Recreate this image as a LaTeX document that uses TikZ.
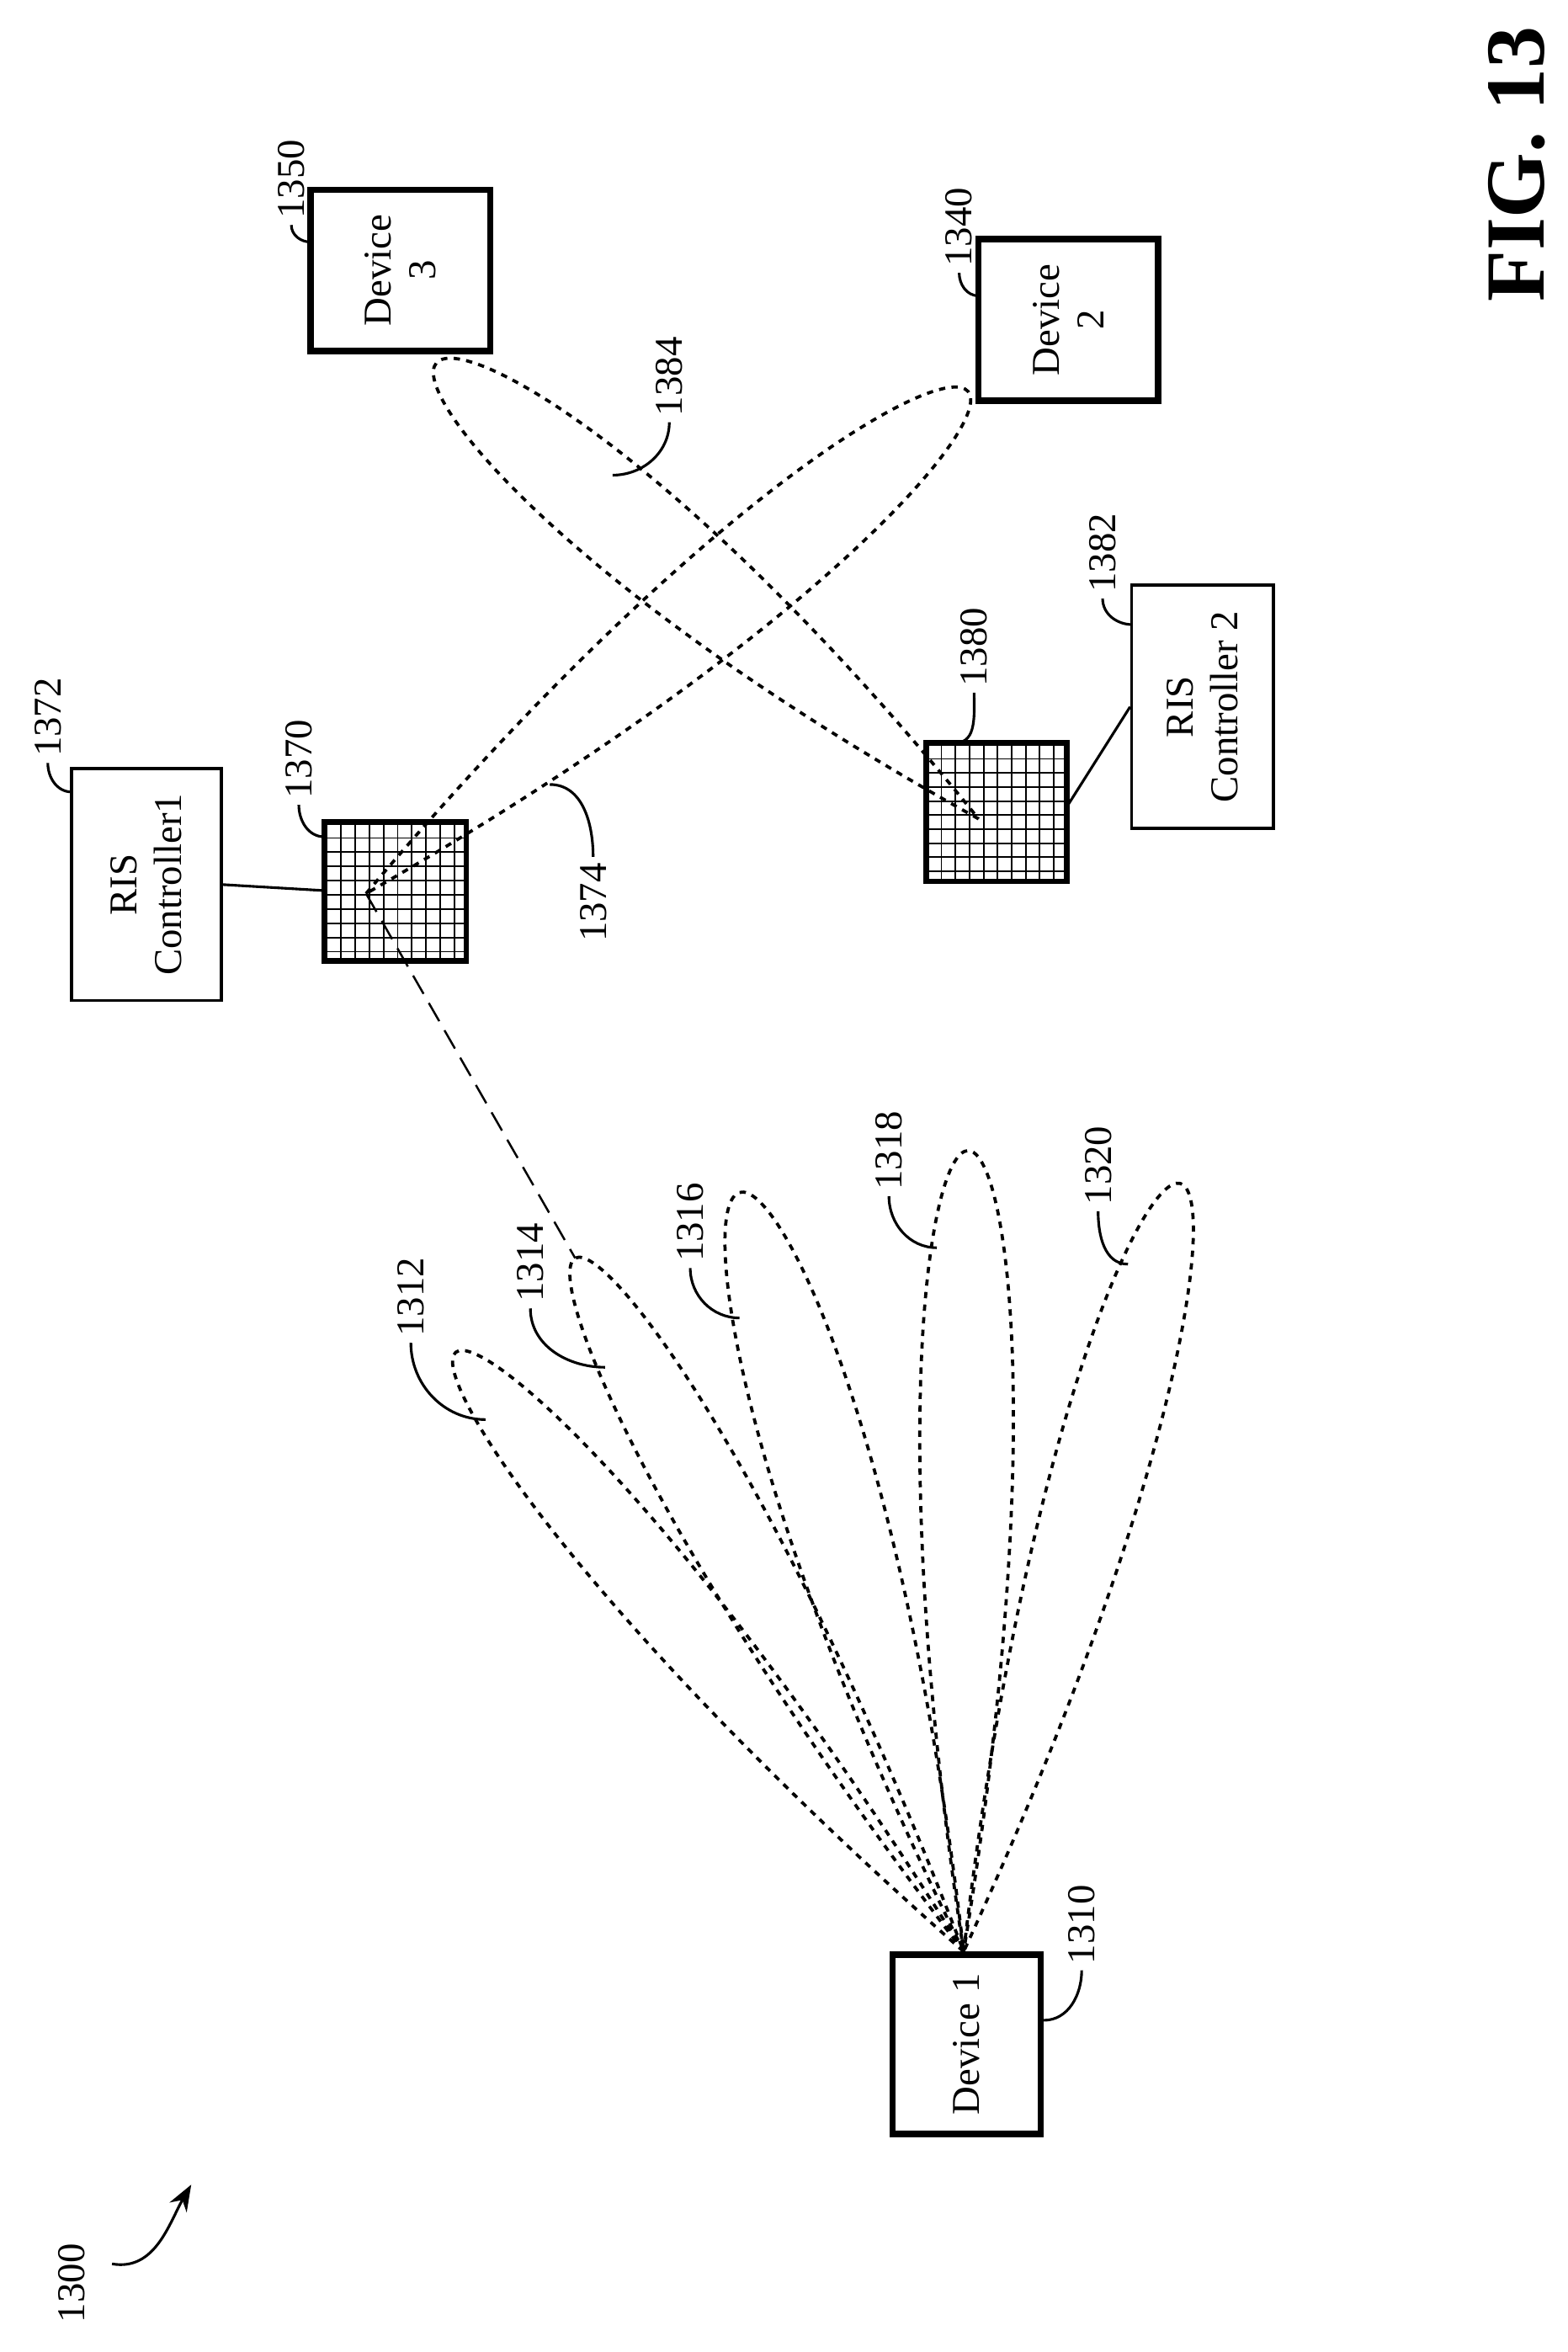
\documentclass[tikz,border=0pt]{standalone}
\usepackage{fontspec}
\setmainfont{Liberation Serif}
\usetikzlibrary{calc,arrows.meta}
\tikzset{
box/.style={draw, rotate=90, align=center, font=\fontsize{7.5}{8.5}\selectfont, inner sep=1pt},
dev/.style={box, line width=1.2pt},
ctrl/.style={box, line width=0.6pt},
num/.style={rotate=90, font=\fontsize{7.5}{8.5}\selectfont, inner sep=1pt},
beam/.style={line width=0.6pt, dash pattern=on 1.2pt off 1.2pt},
lead/.style={line width=0.5pt},
}
% lobe from origin #1 to tip #2, widths #3 (middle) and #4 (near tip)
\newcommand\lobe[4]{\draw[beam] (#1) .. controls ($(#1)!0.65!(#2)!#3!90:(#2)$) and ($(#2)!#4!-90:(#1)$) .. (#2)
 .. controls ($(#2)!#4!90:(#1)$) and ($(#1)!0.65!(#2)!#3!-90:(#2)$) .. (#1);}
\begin{document}
\begin{tikzpicture}[x=0.01cm, y=-0.01cm]
\useasboundingbox (0,0) rectangle (1049,1574);
% devices
\node[dev, minimum width=1.2cm, minimum height=0.99cm] (dev1) at (647,1368) {Device 1};
\node[dev, minimum width=1.08cm, minimum height=1.2cm] (dev3) at (268,181) {Device\\3};
\node[dev, minimum width=1.08cm, minimum height=1.2cm] (dev2) at (715,214) {Device\\2};
\node[ctrl, minimum width=1.55cm, minimum height=1.0cm] (ctrl1) at (98,592) {RIS\\Controller1};
\node[ctrl, minimum width=1.63cm, minimum height=0.95cm] (ctrl2) at (805,473) {RIS\\Controller 2};
% RIS panels
\draw[step=0.095cm, line width=0.3pt] (217,550) grid (312,643);
\draw[line width=1pt] (217,550) rectangle (312,643);
\draw[step=0.094cm, line width=0.3pt] (620,497) grid (714,590);
\draw[line width=1pt] (620,497) rectangle (714,590);
\coordinate (ris1) at (245,598);
\coordinate (ris2) at (655,548);
\draw[line width=0.5pt] (ctrl1.south) -- (217,596);
\draw[line width=0.5pt] (714,540) -- (ctrl2.north);
% beams
\coordinate (src) at (645,1306);
\coordinate (t1312) at (305,905);
\coordinate (t1314) at (385,842);
\coordinate (t1316) at (495,798);
\coordinate (t1318) at (648,770);
\coordinate (t1320) at (790,792);
\lobe{src}{t1312}{0.5cm}{0.24cm}
\lobe{src}{t1314}{0.5cm}{0.24cm}
\lobe{src}{t1316}{0.6cm}{0.28cm}
\lobe{src}{t1318}{0.55cm}{0.26cm}
\lobe{src}{t1320}{0.55cm}{0.26cm}
\coordinate (t1374) at (648,262);
\coordinate (t1384) at (292,243);
\lobe{ris1}{t1374}{0.6cm}{0.28cm}
\lobe{ris2}{t1384}{0.6cm}{0.28cm}
\draw[line width=0.4pt, dash pattern=on 4pt off 2pt] (ris1) -- (t1314);
% labels
\node[num] (l1300) at (48,1528) {1300};
\draw[lead, -{Stealth[length=5pt]}] (75,1515) to[out=-10, in=-120] (128,1462);
\node[num] (l1310) at (724,1288) {1310};
\draw[lead] (dev1.south |- 0,1352) to[out=0, in=-90] (l1310.west);
\node[num] (l1312) at (275,868) {1312};
\draw[lead] (325,950) to[out=180, in=-90] (l1312.west);
\node[num] (l1314) at (355,845) {1314};
\draw[lead] (405,915) to[out=180, in=-90] (l1314.west);
\node[num] (l1316) at (462,818) {1316};
\draw[lead] (495,882) to[out=180, in=-90] (l1316.west);
\node[num] (l1318) at (595,770) {1318};
\draw[lead] (627,835) to[out=180, in=-90] (l1318.west);
\node[num] (l1320) at (735,780) {1320};
\draw[lead] (755,846) to[out=180, in=-90] (l1320.west);
\node[num] (l1350) at (195,120) {1350};
\draw[lead] (208,162) to[out=180, in=-90] (l1350.west);
\node[num] (l1340) at (642,152) {1340};
\draw[lead] (655,198) to[out=180, in=-90] (l1340.west);
\node[num] (l1384) at (448,252) {1384};
\draw[lead] (410,318) to[out=0, in=-90] (l1384.west);
\node[num] (l1382) at (738,370) {1382};
\draw[lead] (758,418) to[out=180, in=-90] (l1382.west);
\node[num] (l1380) at (652,433) {1380};
\draw[lead] (640,497) to[out=0, in=-90] (l1380.west);
\node[num] (l1372) at (32,480) {1372};
\draw[lead] (48,530) to[out=180, in=-90] (l1372.west);
\node[num] (l1370) at (200,508) {1370};
\draw[lead] (217,560) to[out=180, in=-90] (l1370.west);
\node[num] (l1374) at (397,604) {1374};
\draw[lead] (368,525) to[out=0, in=90] (l1374.east);
\node[rotate=90, font=\fontsize{16}{18}\selectfont\bfseries] (fig) at (1015,110) {FIG. 13};
\end{tikzpicture}
\end{document}
